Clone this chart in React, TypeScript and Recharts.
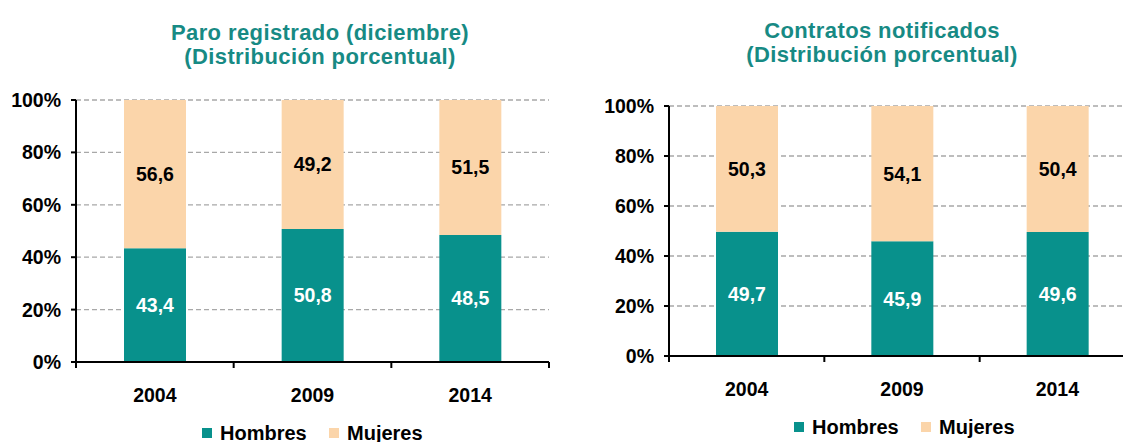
import React from 'react';
import { BarChart, Bar, XAxis, YAxis, CartesianGrid, LabelList } from 'recharts';

const years = ['2004', '2009', '2014'];
const paroHombres = [43.4, 50.8, 48.5];
const paroMujeres = [56.6, 49.2, 51.5];
const contratosHombres = [49.7, 45.9, 49.6];
const contratosMujeres = [50.3, 54.1, 50.4];
const yTicks = [0, 20, 40, 60, 80, 100];
const seriesNames = ['Hombres', 'Mujeres'];
const seriesColors = ['#08918c', '#fbd5aa'];
const titles = [
  ['Paro registrado (diciembre)', '(Distribución porcentual)'],
  ['Contratos notificados', '(Distribución porcentual)'],
];

const FONT = '"Liberation Sans", Arial, Helvetica, sans-serif';
const TEAL_TEXT = '#178a84';
const X_TICK_MARGIN = 26;

const fmt = (v: any) => String(v).replace('.', ',');

function buildData(h: number[], m: number[]) {
  return years.map((y, i) => ({ year: y, Hombres: h[i], Mujeres: m[i] }));
}

const tickStyle = { fontFamily: FONT, fontSize: 19.5, fontWeight: 700, fill: '#000' };

function makeCatTick(fallbackHalfBand: number) {
  return (p: any) => {
    const { x, y, payload } = p;
    const half = payload && typeof payload.offset === 'number' && payload.offset > 0 ? payload.offset : fallbackHalfBand;
    const axisY = y - X_TICK_MARGIN;
    const last = payload.index === years.length - 1;
    return (
      <g>
        <line x1={x - half} x2={x - half} y1={axisY} y2={axisY + 6} stroke="#000" strokeWidth={2} />
        {last && <line x1={x + half} x2={x + half} y1={axisY} y2={axisY + 6} stroke="#000" strokeWidth={2} />}
        <text x={x} y={y} dy="0.71em" textAnchor="middle" style={tickStyle}>
          {payload.value}
        </text>
      </g>
    );
  };
}

function Panel(props: { data: any[]; left: number; top: number; width: number; marginTop: number; marginRight: number; marginBottom: number }) {
  const { data, left, top, width, marginTop, marginRight, marginBottom } = props;
  const plotW = width - 76 - marginRight;
  return (
    <div style={{ position: 'absolute', left, top }}>
      <BarChart
        width={width}
        height={442}
        data={data}
        margin={{ top: marginTop, right: marginRight, bottom: marginBottom, left: 0 }}
        barSize={62}
      >
        <CartesianGrid vertical={false} stroke="#a8a8a8" strokeDasharray="5 3" strokeWidth={1.3} />
        <XAxis
          dataKey="year"
          height={40}
          interval={0}
          axisLine={{ stroke: '#000', strokeWidth: 2 }}
          tickLine={false}
          tickSize={0}
          tickMargin={X_TICK_MARGIN}
          tick={makeCatTick(plotW / years.length / 2)}
        />
        <YAxis
          domain={[0, 100]}
          ticks={yTicks}
          width={76}
          interval={0}
          axisLine={{ stroke: '#000', strokeWidth: 2 }}
          tickLine={{ stroke: '#000', strokeWidth: 2 }}
          tickSize={5}
          tickMargin={10}
          tick={tickStyle}
          tickFormatter={(v: number) => v + '%'}
        />
        <Bar dataKey="Hombres" stackId="a" fill={seriesColors[0]} isAnimationActive={false}>
          <LabelList dataKey="Hombres" position="center" formatter={fmt} style={{ fontFamily: FONT, fontSize: 19.5, fontWeight: 700, fill: '#fff' }} />
        </Bar>
        <Bar dataKey="Mujeres" stackId="a" fill={seriesColors[1]} isAnimationActive={false}>
          <LabelList dataKey="Mujeres" position="center" formatter={fmt} style={{ fontFamily: FONT, fontSize: 19.5, fontWeight: 700, fill: '#000' }} />
        </Bar>
      </BarChart>
    </div>
  );
}

function Title(props: { lines: string[]; cx: number; top: number }) {
  return (
    <div
      style={{
        position: 'absolute',
        left: props.cx - 250,
        top: props.top,
        width: 500,
        textAlign: 'center',
        fontFamily: FONT,
        fontWeight: 700,
        fontSize: 22,
        letterSpacing: 0.4,
        lineHeight: '24px',
        color: TEAL_TEXT,
      }}
    >
      {props.lines.map((l) => (
        <div key={l}>{l}</div>
      ))}
    </div>
  );
}

function Legend(props: { left: number; cy: number }) {
  const gaps = [0, 127];
  return (
    <div style={{ position: 'absolute', left: props.left, top: props.cy - 12, height: 24 }}>
      {seriesNames.map((n, i) => (
        <div key={n} style={{ position: 'absolute', left: gaps[i], top: 0, height: 24, display: 'flex', alignItems: 'center', whiteSpace: 'nowrap' }}>
          <div style={{ width: 10, height: 10, background: seriesColors[i], marginRight: 8 }} />
          <span style={{ fontFamily: FONT, fontWeight: 700, fontSize: 20, color: '#000' }}>{n}</span>
        </div>
      ))}
    </div>
  );
}

export default function App() {
  const paro = buildData(paroHombres, paroMujeres);
  const contratos = buildData(contratosHombres, contratosMujeres);
  return (
    <div style={{ position: 'absolute', left: 0, top: 0, width: 1123, height: 442, overflow: 'hidden', background: '#fff' }}>
      <Title lines={titles[0]} cx={320} top={21} />
      <Title lines={titles[1]} cx={882} top={19} />
      <Panel data={paro} left={0} top={0} width={560} marginTop={100} marginRight={11} marginBottom={40} />
      <Panel data={contratos} left={593} top={0} width={552} marginTop={106} marginRight={10} marginBottom={46} />
      <Legend left={202} cy={433} />
      <Legend left={794} cy={427} />
    </div>
  );
}
